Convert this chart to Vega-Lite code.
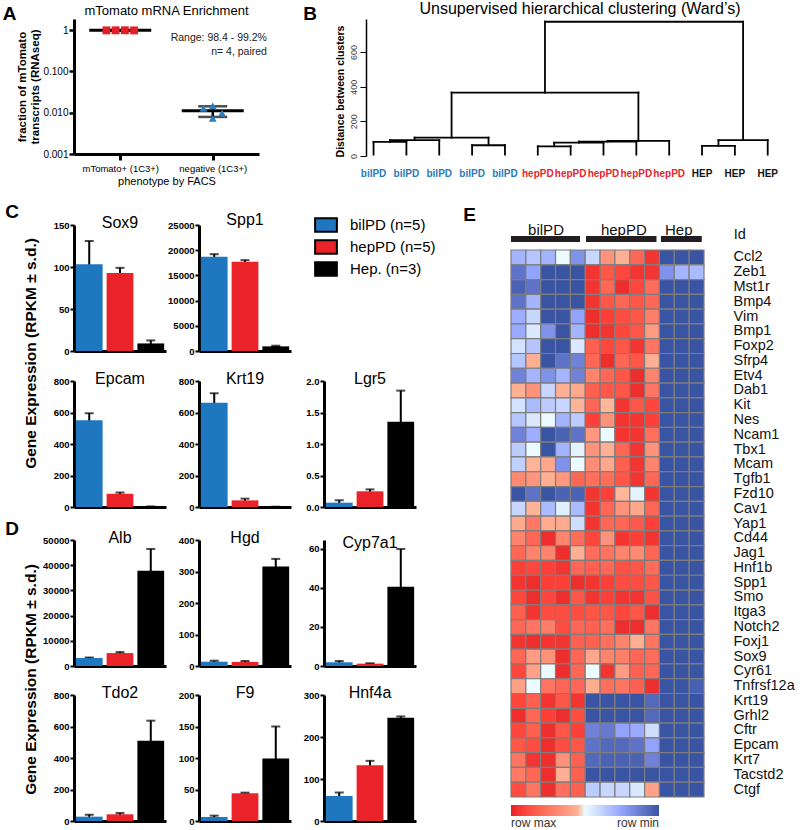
{
"$schema": "https://vega.github.io/schema/vega-lite/v6.json",
"padding": {"left": 2, "top": 1, "right": 2, "bottom": 0},
"background": "white",
"config": {
  "font": "Liberation Sans",
  "view": {"stroke": null},
  "axis": {"grid": false, "domainColor": "black", "tickColor": "black", "labelColor": "black", "titleColor": "black"},
  "axisY": {"domainWidth": 3, "tickWidth": 2, "tickSize": 4, "labelFontSize": 9.5, "labelFontWeight": "bold", "labelPadding": 1, "titleFontWeight": "bold"},
  "axisX": {"domainWidth": 3},
  "scale": {"bandPaddingInner": 0.13, "bandPaddingOuter": 0.06},
  "title": {"fontWeight": "normal", "color": "black"}
},
"datasets": {
  "aPoints": [
    {"grp": "mTomato+", "pos": 0.85, "frac": 0.986},
    {"grp": "mTomato+", "pos": 0.95, "frac": 0.99},
    {"grp": "mTomato+", "pos": 1.05, "frac": 0.992},
    {"grp": "mTomato+", "pos": 1.15, "frac": 0.984},
    {"grp": "negative", "pos": 1.9, "frac": 0.0127},
    {"grp": "negative", "pos": 2.0, "frac": 0.0147},
    {"grp": "negative", "pos": 2.0, "frac": 0.0073},
    {"grp": "negative", "pos": 2.1, "frac": 0.0098}
  ],
  "aSummary": [
    {"grp": "mTomato+", "pos": 1, "mean": 0.988, "sd": 0.0035},
    {"grp": "negative", "pos": 2, "mean": 0.0111, "sd": 0.0032}
  ],
  "aNotes": [
    {"pos": 2.586, "frac": 0.63, "note": "Range: 98.4 - 99.2%"},
    {"pos": 2.586, "frac": 0.30, "note": "n= 4, paired"}
  ],
  "dendro": [
    {"x1":1,"x2":1,"h1":8,"h2":81},{"x1":2,"x2":2,"h1":8,"h2":81},{"x1":1,"x2":2,"h1":81,"h2":81},
    {"x1":1.5,"x2":1.5,"h1":81,"h2":91},{"x1":3,"x2":3,"h1":8,"h2":91},{"x1":1.5,"x2":3,"h1":91,"h2":91},
    {"x1":4,"x2":4,"h1":8,"h2":62},{"x1":5,"x2":5,"h1":8,"h2":62},{"x1":4,"x2":5,"h1":62,"h2":62},
    {"x1":2.25,"x2":2.25,"h1":91,"h2":106},{"x1":4.5,"x2":4.5,"h1":62,"h2":106},{"x1":2.25,"x2":4.5,"h1":106,"h2":106},
    {"x1":6,"x2":6,"h1":8,"h2":56},{"x1":7,"x2":7,"h1":8,"h2":56},{"x1":6,"x2":7,"h1":56,"h2":56},
    {"x1":6.5,"x2":6.5,"h1":56,"h2":77},{"x1":8,"x2":8,"h1":8,"h2":77},{"x1":6.5,"x2":8,"h1":77,"h2":77},
    {"x1":7.25,"x2":7.25,"h1":77,"h2":83},{"x1":9,"x2":9,"h1":8,"h2":83},{"x1":7.25,"x2":9,"h1":83,"h2":83},
    {"x1":8.125,"x2":8.125,"h1":83,"h2":87},{"x1":10,"x2":10,"h1":8,"h2":87},{"x1":8.125,"x2":10,"h1":87,"h2":87},
    {"x1":3.375,"x2":3.375,"h1":106,"h2":366},{"x1":9.0625,"x2":9.0625,"h1":87,"h2":366},{"x1":3.375,"x2":9.0625,"h1":366,"h2":366},
    {"x1":11,"x2":11,"h1":8,"h2":58},{"x1":12,"x2":12,"h1":8,"h2":58},{"x1":11,"x2":12,"h1":58,"h2":58},
    {"x1":11.5,"x2":11.5,"h1":58,"h2":91},{"x1":13,"x2":13,"h1":8,"h2":91},{"x1":11.5,"x2":13,"h1":91,"h2":91},
    {"x1":6.21875,"x2":6.21875,"h1":366,"h2":774},{"x1":12.25,"x2":12.25,"h1":91,"h2":774},{"x1":6.21875,"x2":12.25,"h1":774,"h2":774}
  ],
  "leaves": [
    {"leaf":1,"name":"bilPD"},{"leaf":2,"name":"bilPD"},{"leaf":3,"name":"bilPD"},{"leaf":4,"name":"bilPD"},{"leaf":5,"name":"bilPD"},
    {"leaf":6,"name":"hepPD"},{"leaf":7,"name":"hepPD"},{"leaf":8,"name":"hepPD"},{"leaf":9,"name":"hepPD"},{"leaf":10,"name":"hepPD"},
    {"leaf":11,"name":"HEP"},{"leaf":12,"name":"HEP"},{"leaf":13,"name":"HEP"}
  ],
  "expr": [
    {"gene":"Sox9","group":"bilPD","mean":103.4,"sd":27.6},
    {"gene":"Sox9","group":"hepPD","mean":93,"sd":6},
    {"gene":"Sox9","group":"Hep.","mean":9,"sd":3.6},
    {"gene":"Spp1","group":"bilPD","mean":18684,"sd":526},
    {"gene":"Spp1","group":"hepPD","mean":17697,"sd":329},
    {"gene":"Spp1","group":"Hep.","mean":921,"sd":129},
    {"gene":"Epcam","group":"bilPD","mean":551,"sd":45},
    {"gene":"Epcam","group":"hepPD","mean":84,"sd":8},
    {"gene":"Epcam","group":"Hep.","mean":2,"sd":1},
    {"gene":"Krt19","group":"bilPD","mean":662,"sd":60},
    {"gene":"Krt19","group":"hepPD","mean":42,"sd":11},
    {"gene":"Krt19","group":"Hep.","mean":1,"sd":1},
    {"gene":"Lgr5","group":"bilPD","mean":0.069,"sd":0.037},
    {"gene":"Lgr5","group":"hepPD","mean":0.249,"sd":0.031},
    {"gene":"Lgr5","group":"Hep.","mean":1.354,"sd":0.493},
    {"gene":"Alb","group":"bilPD","mean":3158,"sd":263},
    {"gene":"Alb","group":"hepPD","mean":5132,"sd":394},
    {"gene":"Alb","group":"Hep.","mean":37763,"sd":8684},
    {"gene":"Hgd","group":"bilPD","mean":13.7,"sd":3.1},
    {"gene":"Hgd","group":"hepPD","mean":13,"sd":2.8},
    {"gene":"Hgd","group":"Hep.","mean":315.8,"sd":24.2},
    {"gene":"Cyp7a1","group":"bilPD","mean":1.9,"sd":0.7},
    {"gene":"Cyp7a1","group":"hepPD","mean":1.2,"sd":0.2},
    {"gene":"Cyp7a1","group":"Hep.","mean":40.6,"sd":19.4},
    {"gene":"Tdo2","group":"bilPD","mean":27.6,"sd":12.4},
    {"gene":"Tdo2","group":"hepPD","mean":42.4,"sd":8.6},
    {"gene":"Tdo2","group":"Hep.","mean":509,"sd":128},
    {"gene":"F9","group":"bilPD","mean":6.4,"sd":2.1},
    {"gene":"F9","group":"hepPD","mean":44,"sd":1},
    {"gene":"F9","group":"Hep.","mean":99.2,"sd":50.8},
    {"gene":"Hnf4a","group":"bilPD","mean":59.7,"sd":7.9},
    {"gene":"Hnf4a","group":"hepPD","mean":132.9,"sd":10.3},
    {"gene":"Hnf4a","group":"Hep.","mean":245.9,"sd":3.1}
  ],
  "egroups": [
    {"label":"bilPD","start":0,"end":4.65,"mid":2.36},
    {"label":"hepPD","start":5.05,"end":9.8,"mid":7.6},
    {"label":"Hep","start":10.1,"end":12.85,"mid":11.3}
  ],
  "eHeader": [
    {"pos": 15.0, "label": "Id"}
  ],
  "heat": [
{"g":"Ccl2","c":1,"v":7},{"g":"Ccl2","c":2,"v":6.5},{"g":"Ccl2","c":3,"v":7},{"g":"Ccl2","c":4,"v":5},{"g":"Ccl2","c":5,"v":8},{"g":"Ccl2","c":6,"v":6},{"g":"Ccl2","c":7,"v":3.5},{"g":"Ccl2","c":8,"v":4.5},{"g":"Ccl2","c":9,"v":2},{"g":"Ccl2","c":10,"v":0.5},{"g":"Ccl2","c":11,"v":10},{"g":"Ccl2","c":12,"v":10},{"g":"Ccl2","c":13,"v":10},
{"g":"Zeb1","c":1,"v":9},{"g":"Zeb1","c":2,"v":7.5},{"g":"Zeb1","c":3,"v":10},{"g":"Zeb1","c":4,"v":10},{"g":"Zeb1","c":5,"v":10},{"g":"Zeb1","c":6,"v":0.5},{"g":"Zeb1","c":7,"v":1.5},{"g":"Zeb1","c":8,"v":1},{"g":"Zeb1","c":9,"v":0.5},{"g":"Zeb1","c":10,"v":0.5},{"g":"Zeb1","c":11,"v":8},{"g":"Zeb1","c":12,"v":7},{"g":"Zeb1","c":13,"v":6.8},
{"g":"Mst1r","c":1,"v":9.5},{"g":"Mst1r","c":2,"v":9},{"g":"Mst1r","c":3,"v":10},{"g":"Mst1r","c":4,"v":10},{"g":"Mst1r","c":5,"v":10},{"g":"Mst1r","c":6,"v":0.5},{"g":"Mst1r","c":7,"v":2},{"g":"Mst1r","c":8,"v":0.3},{"g":"Mst1r","c":9,"v":1},{"g":"Mst1r","c":10,"v":2.2},{"g":"Mst1r","c":11,"v":10},{"g":"Mst1r","c":12,"v":10},{"g":"Mst1r","c":13,"v":10},
{"g":"Bmp4","c":1,"v":9},{"g":"Bmp4","c":2,"v":7},{"g":"Bmp4","c":3,"v":10},{"g":"Bmp4","c":4,"v":10},{"g":"Bmp4","c":5,"v":10},{"g":"Bmp4","c":6,"v":0.5},{"g":"Bmp4","c":7,"v":1.5},{"g":"Bmp4","c":8,"v":2},{"g":"Bmp4","c":9,"v":1.5},{"g":"Bmp4","c":10,"v":2},{"g":"Bmp4","c":11,"v":10},{"g":"Bmp4","c":12,"v":10},{"g":"Bmp4","c":13,"v":10},
{"g":"Vim","c":1,"v":7.2},{"g":"Vim","c":2,"v":6},{"g":"Vim","c":3,"v":10},{"g":"Vim","c":4,"v":10},{"g":"Vim","c":5,"v":7.5},{"g":"Vim","c":6,"v":0.3},{"g":"Vim","c":7,"v":0.8},{"g":"Vim","c":8,"v":1.2},{"g":"Vim","c":9,"v":1.5},{"g":"Vim","c":10,"v":2.8},{"g":"Vim","c":11,"v":10},{"g":"Vim","c":12,"v":10},{"g":"Vim","c":13,"v":10},
{"g":"Bmp1","c":1,"v":7.3},{"g":"Bmp1","c":2,"v":5.5},{"g":"Bmp1","c":3,"v":8},{"g":"Bmp1","c":4,"v":10},{"g":"Bmp1","c":5,"v":7},{"g":"Bmp1","c":6,"v":0.3},{"g":"Bmp1","c":7,"v":0.5},{"g":"Bmp1","c":8,"v":1},{"g":"Bmp1","c":9,"v":1.5},{"g":"Bmp1","c":10,"v":3.8},{"g":"Bmp1","c":11,"v":10},{"g":"Bmp1","c":12,"v":10},{"g":"Bmp1","c":13,"v":10},
{"g":"Foxp2","c":1,"v":5.7},{"g":"Foxp2","c":2,"v":6.5},{"g":"Foxp2","c":3,"v":10},{"g":"Foxp2","c":4,"v":10},{"g":"Foxp2","c":5,"v":5.5},{"g":"Foxp2","c":6,"v":1.8},{"g":"Foxp2","c":7,"v":1},{"g":"Foxp2","c":8,"v":1.5},{"g":"Foxp2","c":9,"v":0.5},{"g":"Foxp2","c":10,"v":2.5},{"g":"Foxp2","c":11,"v":10},{"g":"Foxp2","c":12,"v":10},{"g":"Foxp2","c":13,"v":10},
{"g":"Sfrp4","c":1,"v":6.5},{"g":"Sfrp4","c":2,"v":4.5},{"g":"Sfrp4","c":3,"v":10},{"g":"Sfrp4","c":4,"v":9},{"g":"Sfrp4","c":5,"v":8.5},{"g":"Sfrp4","c":6,"v":2},{"g":"Sfrp4","c":7,"v":0.3},{"g":"Sfrp4","c":8,"v":2},{"g":"Sfrp4","c":9,"v":1.5},{"g":"Sfrp4","c":10,"v":4.5},{"g":"Sfrp4","c":11,"v":10},{"g":"Sfrp4","c":12,"v":10},{"g":"Sfrp4","c":13,"v":10},
{"g":"Etv4","c":1,"v":8.5},{"g":"Etv4","c":2,"v":7},{"g":"Etv4","c":3,"v":8},{"g":"Etv4","c":4,"v":7},{"g":"Etv4","c":5,"v":8.5},{"g":"Etv4","c":6,"v":3},{"g":"Etv4","c":7,"v":2},{"g":"Etv4","c":8,"v":1.5},{"g":"Etv4","c":9,"v":0.3},{"g":"Etv4","c":10,"v":3},{"g":"Etv4","c":11,"v":10},{"g":"Etv4","c":12,"v":10},{"g":"Etv4","c":13,"v":10},
{"g":"Dab1","c":1,"v":4.5},{"g":"Dab1","c":2,"v":3.5},{"g":"Dab1","c":3,"v":6},{"g":"Dab1","c":4,"v":4.5},{"g":"Dab1","c":5,"v":4.3},{"g":"Dab1","c":6,"v":1.8},{"g":"Dab1","c":7,"v":1.5},{"g":"Dab1","c":8,"v":1.5},{"g":"Dab1","c":9,"v":0.3},{"g":"Dab1","c":10,"v":2.5},{"g":"Dab1","c":11,"v":10},{"g":"Dab1","c":12,"v":10},{"g":"Dab1","c":13,"v":10},
{"g":"Kit","c":1,"v":5.7},{"g":"Kit","c":2,"v":6.8},{"g":"Kit","c":3,"v":6.3},{"g":"Kit","c":4,"v":6},{"g":"Kit","c":5,"v":4.6},{"g":"Kit","c":6,"v":2},{"g":"Kit","c":7,"v":4.7},{"g":"Kit","c":8,"v":0.5},{"g":"Kit","c":9,"v":1.5},{"g":"Kit","c":10,"v":1},{"g":"Kit","c":11,"v":10},{"g":"Kit","c":12,"v":10},{"g":"Kit","c":13,"v":10},
{"g":"Nes","c":1,"v":6.5},{"g":"Nes","c":2,"v":5.5},{"g":"Nes","c":3,"v":5},{"g":"Nes","c":4,"v":7},{"g":"Nes","c":5,"v":6.3},{"g":"Nes","c":6,"v":0.8},{"g":"Nes","c":7,"v":3.5},{"g":"Nes","c":8,"v":0.5},{"g":"Nes","c":9,"v":0.5},{"g":"Nes","c":10,"v":0.8},{"g":"Nes","c":11,"v":10},{"g":"Nes","c":12,"v":10},{"g":"Nes","c":13,"v":10},
{"g":"Ncam1","c":1,"v":8.5},{"g":"Ncam1","c":2,"v":7.2},{"g":"Ncam1","c":3,"v":10},{"g":"Ncam1","c":4,"v":9.5},{"g":"Ncam1","c":5,"v":9},{"g":"Ncam1","c":6,"v":3.7},{"g":"Ncam1","c":7,"v":5},{"g":"Ncam1","c":8,"v":0.5},{"g":"Ncam1","c":9,"v":0.5},{"g":"Ncam1","c":10,"v":2.3},{"g":"Ncam1","c":11,"v":10},{"g":"Ncam1","c":12,"v":10},{"g":"Ncam1","c":13,"v":10},
{"g":"Tbx1","c":1,"v":6.3},{"g":"Tbx1","c":2,"v":5},{"g":"Tbx1","c":3,"v":10},{"g":"Tbx1","c":4,"v":7},{"g":"Tbx1","c":5,"v":5.2},{"g":"Tbx1","c":6,"v":3.5},{"g":"Tbx1","c":7,"v":4.5},{"g":"Tbx1","c":8,"v":2},{"g":"Tbx1","c":9,"v":0.5},{"g":"Tbx1","c":10,"v":3.5},{"g":"Tbx1","c":11,"v":10},{"g":"Tbx1","c":12,"v":10},{"g":"Tbx1","c":13,"v":10},
{"g":"Mcam","c":1,"v":6.2},{"g":"Mcam","c":2,"v":4.6},{"g":"Mcam","c":3,"v":4.2},{"g":"Mcam","c":4,"v":8},{"g":"Mcam","c":5,"v":5},{"g":"Mcam","c":6,"v":3.3},{"g":"Mcam","c":7,"v":4.2},{"g":"Mcam","c":8,"v":1.8},{"g":"Mcam","c":9,"v":0.5},{"g":"Mcam","c":10,"v":3},{"g":"Mcam","c":11,"v":10},{"g":"Mcam","c":12,"v":10},{"g":"Mcam","c":13,"v":10},
{"g":"Tgfb1","c":1,"v":3.2},{"g":"Tgfb1","c":2,"v":3.6},{"g":"Tgfb1","c":3,"v":4.5},{"g":"Tgfb1","c":4,"v":3.7},{"g":"Tgfb1","c":5,"v":2},{"g":"Tgfb1","c":6,"v":2.3},{"g":"Tgfb1","c":7,"v":2.2},{"g":"Tgfb1","c":8,"v":1.5},{"g":"Tgfb1","c":9,"v":0.5},{"g":"Tgfb1","c":10,"v":2},{"g":"Tgfb1","c":11,"v":10},{"g":"Tgfb1","c":12,"v":10},{"g":"Tgfb1","c":13,"v":10},
{"g":"Fzd10","c":1,"v":10},{"g":"Fzd10","c":2,"v":9},{"g":"Fzd10","c":3,"v":10},{"g":"Fzd10","c":4,"v":9.5},{"g":"Fzd10","c":5,"v":9.5},{"g":"Fzd10","c":6,"v":0.5},{"g":"Fzd10","c":7,"v":0.8},{"g":"Fzd10","c":8,"v":4.7},{"g":"Fzd10","c":9,"v":5.2},{"g":"Fzd10","c":10,"v":0.5},{"g":"Fzd10","c":11,"v":10},{"g":"Fzd10","c":12,"v":10},{"g":"Fzd10","c":13,"v":10},
{"g":"Cav1","c":1,"v":6},{"g":"Cav1","c":2,"v":4.6},{"g":"Cav1","c":3,"v":6.8},{"g":"Cav1","c":4,"v":5.3},{"g":"Cav1","c":5,"v":6.8},{"g":"Cav1","c":6,"v":0.5},{"g":"Cav1","c":7,"v":2},{"g":"Cav1","c":8,"v":3.5},{"g":"Cav1","c":9,"v":4.2},{"g":"Cav1","c":10,"v":2},{"g":"Cav1","c":11,"v":10},{"g":"Cav1","c":12,"v":10},{"g":"Cav1","c":13,"v":10},
{"g":"Yap1","c":1,"v":4.3},{"g":"Yap1","c":2,"v":2.6},{"g":"Yap1","c":3,"v":4.4},{"g":"Yap1","c":4,"v":4.3},{"g":"Yap1","c":5,"v":5.8},{"g":"Yap1","c":6,"v":0.5},{"g":"Yap1","c":7,"v":2},{"g":"Yap1","c":8,"v":2},{"g":"Yap1","c":9,"v":1.6},{"g":"Yap1","c":10,"v":0.8},{"g":"Yap1","c":11,"v":10},{"g":"Yap1","c":12,"v":10},{"g":"Yap1","c":13,"v":10},
{"g":"Cd44","c":1,"v":3},{"g":"Cd44","c":2,"v":2},{"g":"Cd44","c":3,"v":0.3},{"g":"Cd44","c":4,"v":3},{"g":"Cd44","c":5,"v":2.2},{"g":"Cd44","c":6,"v":1},{"g":"Cd44","c":7,"v":3.5},{"g":"Cd44","c":8,"v":0.5},{"g":"Cd44","c":9,"v":0.8},{"g":"Cd44","c":10,"v":0.5},{"g":"Cd44","c":11,"v":10},{"g":"Cd44","c":12,"v":10},{"g":"Cd44","c":13,"v":10},
{"g":"Jag1","c":1,"v":2},{"g":"Jag1","c":2,"v":3},{"g":"Jag1","c":3,"v":3},{"g":"Jag1","c":4,"v":0.3},{"g":"Jag1","c":5,"v":4.5},{"g":"Jag1","c":6,"v":2.2},{"g":"Jag1","c":7,"v":2.4},{"g":"Jag1","c":8,"v":3},{"g":"Jag1","c":9,"v":3.2},{"g":"Jag1","c":10,"v":2},{"g":"Jag1","c":11,"v":10},{"g":"Jag1","c":12,"v":10},{"g":"Jag1","c":13,"v":10},
{"g":"Hnf1b","c":1,"v":0.8},{"g":"Hnf1b","c":2,"v":1},{"g":"Hnf1b","c":3,"v":0.8},{"g":"Hnf1b","c":4,"v":0.5},{"g":"Hnf1b","c":5,"v":2},{"g":"Hnf1b","c":6,"v":1.8},{"g":"Hnf1b","c":7,"v":2},{"g":"Hnf1b","c":8,"v":1.3},{"g":"Hnf1b","c":9,"v":1.5},{"g":"Hnf1b","c":10,"v":2.2},{"g":"Hnf1b","c":11,"v":10},{"g":"Hnf1b","c":12,"v":10},{"g":"Hnf1b","c":13,"v":10},
{"g":"Spp1","c":1,"v":0.5},{"g":"Spp1","c":2,"v":0.3},{"g":"Spp1","c":3,"v":0.8},{"g":"Spp1","c":4,"v":0.8},{"g":"Spp1","c":5,"v":0.3},{"g":"Spp1","c":6,"v":0.5},{"g":"Spp1","c":7,"v":0.8},{"g":"Spp1","c":8,"v":1.2},{"g":"Spp1","c":9,"v":1.2},{"g":"Spp1","c":10,"v":1.5},{"g":"Spp1","c":11,"v":10},{"g":"Spp1","c":12,"v":10},{"g":"Spp1","c":13,"v":10},
{"g":"Smo","c":1,"v":1},{"g":"Smo","c":2,"v":0.3},{"g":"Smo","c":3,"v":1},{"g":"Smo","c":4,"v":0.3},{"g":"Smo","c":5,"v":1.5},{"g":"Smo","c":6,"v":0.5},{"g":"Smo","c":7,"v":0.8},{"g":"Smo","c":8,"v":0.5},{"g":"Smo","c":9,"v":0.5},{"g":"Smo","c":10,"v":1.3},{"g":"Smo","c":11,"v":10},{"g":"Smo","c":12,"v":10},{"g":"Smo","c":13,"v":10},
{"g":"Itga3","c":1,"v":1.8},{"g":"Itga3","c":2,"v":0.5},{"g":"Itga3","c":3,"v":1.2},{"g":"Itga3","c":4,"v":1.2},{"g":"Itga3","c":5,"v":1.2},{"g":"Itga3","c":6,"v":1.5},{"g":"Itga3","c":7,"v":1.5},{"g":"Itga3","c":8,"v":1},{"g":"Itga3","c":9,"v":1.5},{"g":"Itga3","c":10,"v":0.3},{"g":"Itga3","c":11,"v":10},{"g":"Itga3","c":12,"v":10},{"g":"Itga3","c":13,"v":10},
{"g":"Notch2","c":1,"v":2},{"g":"Notch2","c":2,"v":2.5},{"g":"Notch2","c":3,"v":2.8},{"g":"Notch2","c":4,"v":1.2},{"g":"Notch2","c":5,"v":2},{"g":"Notch2","c":6,"v":1.8},{"g":"Notch2","c":7,"v":2.3},{"g":"Notch2","c":8,"v":0.3},{"g":"Notch2","c":9,"v":0.3},{"g":"Notch2","c":10,"v":2.5},{"g":"Notch2","c":11,"v":10},{"g":"Notch2","c":12,"v":10},{"g":"Notch2","c":13,"v":10},
{"g":"Foxj1","c":1,"v":0.5},{"g":"Foxj1","c":2,"v":0.3},{"g":"Foxj1","c":3,"v":0.5},{"g":"Foxj1","c":4,"v":0.5},{"g":"Foxj1","c":5,"v":1.8},{"g":"Foxj1","c":6,"v":1.8},{"g":"Foxj1","c":7,"v":2.3},{"g":"Foxj1","c":8,"v":3},{"g":"Foxj1","c":9,"v":4.5},{"g":"Foxj1","c":10,"v":2.5},{"g":"Foxj1","c":11,"v":10},{"g":"Foxj1","c":12,"v":10},{"g":"Foxj1","c":13,"v":10},
{"g":"Sox9","c":1,"v":2},{"g":"Sox9","c":2,"v":3.8},{"g":"Sox9","c":3,"v":3.5},{"g":"Sox9","c":4,"v":0.3},{"g":"Sox9","c":5,"v":2},{"g":"Sox9","c":6,"v":4.2},{"g":"Sox9","c":7,"v":3},{"g":"Sox9","c":8,"v":2.8},{"g":"Sox9","c":9,"v":2},{"g":"Sox9","c":10,"v":2.2},{"g":"Sox9","c":11,"v":10},{"g":"Sox9","c":12,"v":10},{"g":"Sox9","c":13,"v":10},
{"g":"Cyr61","c":1,"v":1},{"g":"Cyr61","c":2,"v":4},{"g":"Cyr61","c":3,"v":5},{"g":"Cyr61","c":4,"v":0.3},{"g":"Cyr61","c":5,"v":2},{"g":"Cyr61","c":6,"v":5},{"g":"Cyr61","c":7,"v":0.5},{"g":"Cyr61","c":8,"v":3.8},{"g":"Cyr61","c":9,"v":1.8},{"g":"Cyr61","c":10,"v":2},{"g":"Cyr61","c":11,"v":10},{"g":"Cyr61","c":12,"v":10},{"g":"Cyr61","c":13,"v":10},
{"g":"Tnfrsf12a","c":1,"v":4},{"g":"Tnfrsf12a","c":2,"v":5},{"g":"Tnfrsf12a","c":3,"v":2.5},{"g":"Tnfrsf12a","c":4,"v":2},{"g":"Tnfrsf12a","c":5,"v":2},{"g":"Tnfrsf12a","c":6,"v":4.4},{"g":"Tnfrsf12a","c":7,"v":2.3},{"g":"Tnfrsf12a","c":8,"v":2.5},{"g":"Tnfrsf12a","c":9,"v":1.8},{"g":"Tnfrsf12a","c":10,"v":0.3},{"g":"Tnfrsf12a","c":11,"v":10},{"g":"Tnfrsf12a","c":12,"v":10},{"g":"Tnfrsf12a","c":13,"v":9.6},
{"g":"Krt19","c":1,"v":1},{"g":"Krt19","c":2,"v":1.8},{"g":"Krt19","c":3,"v":0.5},{"g":"Krt19","c":4,"v":1.5},{"g":"Krt19","c":5,"v":0.5},{"g":"Krt19","c":6,"v":10},{"g":"Krt19","c":7,"v":10},{"g":"Krt19","c":8,"v":10},{"g":"Krt19","c":9,"v":10},{"g":"Krt19","c":10,"v":9.3},{"g":"Krt19","c":11,"v":10},{"g":"Krt19","c":12,"v":10},{"g":"Krt19","c":13,"v":10},
{"g":"Grhl2","c":1,"v":0.3},{"g":"Grhl2","c":2,"v":2},{"g":"Grhl2","c":3,"v":0.8},{"g":"Grhl2","c":4,"v":0.3},{"g":"Grhl2","c":5,"v":1.2},{"g":"Grhl2","c":6,"v":10},{"g":"Grhl2","c":7,"v":10},{"g":"Grhl2","c":8,"v":10},{"g":"Grhl2","c":9,"v":10},{"g":"Grhl2","c":10,"v":9.3},{"g":"Grhl2","c":11,"v":10},{"g":"Grhl2","c":12,"v":10},{"g":"Grhl2","c":13,"v":10},
{"g":"Cftr","c":1,"v":1},{"g":"Cftr","c":2,"v":1.8},{"g":"Cftr","c":3,"v":0.3},{"g":"Cftr","c":4,"v":1.5},{"g":"Cftr","c":5,"v":0.8},{"g":"Cftr","c":6,"v":8.5},{"g":"Cftr","c":7,"v":8.8},{"g":"Cftr","c":8,"v":7.5},{"g":"Cftr","c":9,"v":7.3},{"g":"Cftr","c":10,"v":5.8},{"g":"Cftr","c":11,"v":10},{"g":"Cftr","c":12,"v":10},{"g":"Cftr","c":13,"v":10},
{"g":"Epcam","c":1,"v":1.5},{"g":"Epcam","c":2,"v":1.2},{"g":"Epcam","c":3,"v":0.3},{"g":"Epcam","c":4,"v":1.2},{"g":"Epcam","c":5,"v":1.5},{"g":"Epcam","c":6,"v":9},{"g":"Epcam","c":7,"v":9.3},{"g":"Epcam","c":8,"v":9.3},{"g":"Epcam","c":9,"v":9},{"g":"Epcam","c":10,"v":7.5},{"g":"Epcam","c":11,"v":10},{"g":"Epcam","c":12,"v":10},{"g":"Epcam","c":13,"v":10},
{"g":"Krt7","c":1,"v":2.5},{"g":"Krt7","c":2,"v":0.5},{"g":"Krt7","c":3,"v":0.3},{"g":"Krt7","c":4,"v":3.5},{"g":"Krt7","c":5,"v":1.8},{"g":"Krt7","c":6,"v":9.3},{"g":"Krt7","c":7,"v":9.5},{"g":"Krt7","c":8,"v":9.5},{"g":"Krt7","c":9,"v":9.5},{"g":"Krt7","c":10,"v":8.5},{"g":"Krt7","c":11,"v":10},{"g":"Krt7","c":12,"v":10},{"g":"Krt7","c":13,"v":10},
{"g":"Tacstd2","c":1,"v":2.7},{"g":"Tacstd2","c":2,"v":2},{"g":"Tacstd2","c":3,"v":0.3},{"g":"Tacstd2","c":4,"v":4.5},{"g":"Tacstd2","c":5,"v":1.8},{"g":"Tacstd2","c":6,"v":10},{"g":"Tacstd2","c":7,"v":10},{"g":"Tacstd2","c":8,"v":10},{"g":"Tacstd2","c":9,"v":10},{"g":"Tacstd2","c":10,"v":10},{"g":"Tacstd2","c":11,"v":10},{"g":"Tacstd2","c":12,"v":10},{"g":"Tacstd2","c":13,"v":10},
{"g":"Ctgf","c":1,"v":1.2},{"g":"Ctgf","c":2,"v":2.5},{"g":"Ctgf","c":3,"v":0.3},{"g":"Ctgf","c":4,"v":2.3},{"g":"Ctgf","c":5,"v":1.8},{"g":"Ctgf","c":6,"v":6.3},{"g":"Ctgf","c":7,"v":6},{"g":"Ctgf","c":8,"v":6},{"g":"Ctgf","c":9,"v":5.5},{"g":"Ctgf","c":10,"v":4},{"g":"Ctgf","c":11,"v":10},{"g":"Ctgf","c":12,"v":10},{"g":"Ctgf","c":13,"v":10}
  ]
},
"resolve": {"scale": {"color": "independent", "shape": "independent"}, "legend": {"color": "independent"}},
"spacing": 16,
"vconcat": [
 {
  "spacing": 36,
  "resolve": {"scale": {"color": "independent"}},
  "hconcat": [
   {
    "title": {"text": "A", "orient": "left", "angle": 0, "anchor": "end", "align": "left", "baseline": "top", "fontSize": 19, "fontWeight": "bold", "offset": 0},
    "hconcat": [
     {
      "width": 185, "height": 135,
      "title": {"text": "mTomato mRNA Enrichment", "fontSize": 13, "offset": 1},
      "layer": [
       {"data": {"name": "aSummary"},
        "mark": {"type": "errorbar", "orient": "vertical", "ticks": {"size": 29, "thickness": 2.5, "color": "black"}, "rule": {"strokeWidth": 2.5, "color": "black"}},
        "encoding": {
          "x": {"field": "pos", "type": "quantitative", "scale": {"domain": [0.5, 2.5], "nice": false, "zero": false},
                "axis": {"values": [1, 2], "labelExpr": "datum.value == 1 ? 'mTomato+ (1C3+)' : 'negative (1C3+)'", "title": "phenotype by FACS", "titleFontSize": 11, "titleFontWeight": "normal", "labelFontSize": 9.5, "tickSize": 6, "tickWidth": 3, "domainWidth": 3, "labelPadding": 3, "titlePadding": 3}},
          "y": {"field": "mean", "type": "quantitative", "scale": {"type": "log", "domain": [0.001, 1.86], "nice": false},
                "axis": {"values": [0.001, 0.01, 0.1, 1], "labelExpr": "datum.value >= 1 ? '1' : format(datum.value, '.3f')", "title": ["fraction of  mTomato", "transcripts (RNAseq)"], "titleFontSize": 11.5, "labelFontSize": 10, "labelFontWeight": "normal", "tickSize": 5, "tickWidth": 2.5, "domainWidth": 3, "titlePadding": 2, "labelPadding": 1}},
          "yError": {"field": "sd"}
        }},
       {"data": {"name": "aSummary"},
        "mark": {"type": "tick", "orient": "horizontal", "size": 62, "thickness": 3, "color": "black", "opacity": 1},
        "encoding": {"x": {"field": "pos", "type": "quantitative"}, "y": {"field": "mean", "type": "quantitative"}}},
       {"data": {"name": "aPoints"},
        "mark": {"type": "point", "filled": true, "opacity": 1, "size": 62},
        "encoding": {
          "x": {"field": "pos", "type": "quantitative"},
          "y": {"field": "frac", "type": "quantitative"},
          "shape": {"field": "grp", "type": "nominal", "scale": {"domain": ["mTomato+", "negative"], "range": ["square", "triangle-up"]}, "legend": null},
          "color": {"field": "grp", "type": "nominal", "scale": {"domain": ["mTomato+", "negative"], "range": ["#e41f26", "#2a7fc1"]}, "legend": null}
        }},
       {"data": {"name": "aNotes"},
        "mark": {"type": "text", "align": "right", "fontSize": 10.5, "color": "#222"},
        "encoding": {"x": {"field": "pos", "type": "quantitative"}, "y": {"field": "frac", "type": "quantitative"}, "text": {"field": "note"}}}
      ]
     }
    ]
   },
   {
    "title": {"text": "B", "orient": "left", "angle": 0, "anchor": "end", "align": "left", "baseline": "top", "fontSize": 19, "fontWeight": "bold", "offset": 18, "dy": 4},
    "hconcat": [
     {
      "width": 428, "height": 137,
      "title": {"text": "Unsupervised hierarchical clustering (Ward’s)", "fontSize": 16, "offset": 2},
      "layer": [
       {"data": {"name": "dendro"},
        "mark": {"type": "rule", "strokeWidth": 1.8, "color": "black", "strokeCap": "square"},
        "encoding": {
          "x": {"field": "x1", "type": "quantitative", "scale": {"domain": [0.77, 13.8], "nice": false, "zero": false}, "axis": null},
          "x2": {"field": "x2"},
          "y": {"field": "h1", "type": "quantitative", "scale": {"domain": [0, 790], "nice": false},
                "axis": {"values": [0, 200, 400, 600], "labelAngle": 270, "labelFontSize": 9, "labelFontWeight": "normal", "labelColor": "#444", "tickSize": 6, "tickWidth": 1, "domainWidth": 1.5, "title": "Distance between clusters", "titleFontSize": 10.5, "titleFontWeight": "bold", "titlePadding": 4, "labelPadding": 2, "titleY": 72}},
          "y2": {"field": "h2"}
        }},
       {"data": {"name": "leaves"},
        "mark": {"type": "text", "dy": 18, "fontSize": 10, "fontWeight": "bold"},
        "encoding": {
          "x": {"field": "leaf", "type": "quantitative"},
          "y": {"datum": 0, "type": "quantitative"},
          "text": {"field": "name"},
          "color": {"field": "name", "type": "nominal", "scale": {"domain": ["bilPD", "hepPD", "HEP"], "range": ["#2b7bba", "#e4262b", "#111111"]}, "legend": null}
        }}
      ]
     }
    ]
   }
  ]
 },
 {
  "spacing": 27,
  "resolve": {"scale": {"color": "independent"}, "legend": {"color": "independent"}},
  "hconcat": [
   {
    "spacing": 8,
    "resolve": {"scale": {"color": "independent"}, "legend": {"color": "independent"}},
    "vconcat": [
     {
      "title": {"text": "C", "orient": "left", "angle": 0, "anchor": "end", "align": "left", "baseline": "top", "fontSize": 19, "fontWeight": "bold", "offset": 4, "dy": -9},
      "columns": 3, "bounds": "flush", "spacing": {"row": 30, "column": 33},
      "resolve": {"scale": {"color": "independent"}, "legend": {"color": "independent"}},
      "concat": [
       {"width": 92, "height": 126, "title": {"text": "Sox9", "fontSize": 16, "offset": -11},
        "data": {"name": "expr"}, "transform": [{"filter": "datum.gene === 'Sox9'"}],
        "encoding": {
          "x": {"field": "group", "type": "nominal", "sort": ["bilPD", "hepPD", "Hep."], "title": null, "axis": {"labels": false, "ticks": false, "domainWidth": 3}},
          "y": {"field": "mean", "type": "quantitative", "scale": {"domain": [0, 150], "nice": false},
                "axis": {"values": [0, 50, 100, 150], "format": "d", "title": "Gene Expression (RPKM  ± s.d.)", "titleFontSize": 15.5, "titleFontWeight": "bold", "titleX": -36, "titleY": 128, "titleAngle": 270, "titleAlign": "center", "titleBaseline": "bottom"}}
        },
        "layer": [
         {"mark": {"type": "errorbar", "ticks": {"size": 9, "thickness": 2, "color": "black"}, "rule": {"strokeWidth": 2, "color": "black"}}, "encoding": {"yError": {"field": "sd"}}},
         {"mark": {"type": "bar"}, "encoding": {"color": {"field": "group", "type": "nominal", "scale": {"domain": ["bilPD", "hepPD", "Hep."], "range": ["#1f77c0", "#ea2229", "#000000"]}, "legend": null}}}
        ]},
       {"width": 92, "height": 126, "title": {"text": "Spp1", "fontSize": 16, "offset": -11},
        "data": {"name": "expr"}, "transform": [{"filter": "datum.gene === 'Spp1'"}],
        "encoding": {
          "x": {"field": "group", "type": "nominal", "sort": ["bilPD", "hepPD", "Hep."], "title": null, "axis": {"labels": false, "ticks": false, "domainWidth": 3}},
          "y": {"field": "mean", "type": "quantitative", "scale": {"domain": [0, 25000], "nice": false},
                "axis": {"values": [0, 5000, 10000, 15000, 20000, 25000], "format": "d", "title": null}}
        },
        "layer": [
         {"mark": {"type": "errorbar", "ticks": {"size": 9, "thickness": 2, "color": "black"}, "rule": {"strokeWidth": 2, "color": "black"}}, "encoding": {"yError": {"field": "sd"}}},
         {"mark": {"type": "bar"}, "encoding": {"color": {"field": "group", "type": "nominal", "scale": {"domain": ["bilPD", "hepPD", "Hep."], "range": ["#1f77c0", "#ea2229", "#000000"]},
            "legend": {"orient": "none", "legendX": 119, "legendY": -8, "title": null, "symbolType": "M-1.6,-1H1.6V1H-1.6Z", "symbolSize": 185, "symbolStrokeColor": "black", "symbolStrokeWidth": 2, "labelFontSize": 15, "labelOffset": 16, "rowPadding": 0, "padding": 0,
                       "labelExpr": "datum.label + (datum.label === 'Hep.' ? ' (n=3)' : ' (n=5)')"}}}}
        ]},
       {"width": 92, "height": 126, "data": {"values": []}, "mark": {"type": "point", "opacity": 0}},
       {"width": 92, "height": 126, "title": {"text": "Epcam", "fontSize": 16, "offset": -11},
        "data": {"name": "expr"}, "transform": [{"filter": "datum.gene === 'Epcam'"}],
        "encoding": {
          "x": {"field": "group", "type": "nominal", "sort": ["bilPD", "hepPD", "Hep."], "title": null, "axis": {"labels": false, "ticks": false, "domainWidth": 3}},
          "y": {"field": "mean", "type": "quantitative", "scale": {"domain": [0, 800], "nice": false},
                "axis": {"values": [0, 200, 400, 600, 800], "format": "d", "title": null}}
        },
        "layer": [
         {"mark": {"type": "errorbar", "ticks": {"size": 9, "thickness": 2, "color": "black"}, "rule": {"strokeWidth": 2, "color": "black"}}, "encoding": {"yError": {"field": "sd"}}},
         {"mark": {"type": "bar"}, "encoding": {"color": {"field": "group", "type": "nominal", "scale": {"domain": ["bilPD", "hepPD", "Hep."], "range": ["#1f77c0", "#ea2229", "#000000"]}, "legend": null}}}
        ]},
       {"width": 92, "height": 126, "title": {"text": "Krt19", "fontSize": 16, "offset": -11},
        "data": {"name": "expr"}, "transform": [{"filter": "datum.gene === 'Krt19'"}],
        "encoding": {
          "x": {"field": "group", "type": "nominal", "sort": ["bilPD", "hepPD", "Hep."], "title": null, "axis": {"labels": false, "ticks": false, "domainWidth": 3}},
          "y": {"field": "mean", "type": "quantitative", "scale": {"domain": [0, 800], "nice": false},
                "axis": {"values": [0, 200, 400, 600, 800], "format": "d", "title": null}}
        },
        "layer": [
         {"mark": {"type": "errorbar", "ticks": {"size": 9, "thickness": 2, "color": "black"}, "rule": {"strokeWidth": 2, "color": "black"}}, "encoding": {"yError": {"field": "sd"}}},
         {"mark": {"type": "bar"}, "encoding": {"color": {"field": "group", "type": "nominal", "scale": {"domain": ["bilPD", "hepPD", "Hep."], "range": ["#1f77c0", "#ea2229", "#000000"]}, "legend": null}}}
        ]},
       {"width": 92, "height": 126, "title": {"text": "Lgr5", "fontSize": 16, "offset": -11},
        "data": {"name": "expr"}, "transform": [{"filter": "datum.gene === 'Lgr5'"}],
        "encoding": {
          "x": {"field": "group", "type": "nominal", "sort": ["bilPD", "hepPD", "Hep."], "title": null, "axis": {"labels": false, "ticks": false, "domainWidth": 3}},
          "y": {"field": "mean", "type": "quantitative", "scale": {"domain": [0, 2], "nice": false},
                "axis": {"values": [0, 0.5, 1, 1.5, 2], "format": ".1f", "title": null}}
        },
        "layer": [
         {"mark": {"type": "errorbar", "ticks": {"size": 9, "thickness": 2, "color": "black"}, "rule": {"strokeWidth": 2, "color": "black"}}, "encoding": {"yError": {"field": "sd"}}},
         {"mark": {"type": "bar"}, "encoding": {"color": {"field": "group", "type": "nominal", "scale": {"domain": ["bilPD", "hepPD", "Hep."], "range": ["#1f77c0", "#ea2229", "#000000"]}, "legend": null}}}
        ]}
      ]
     },
     {
      "title": {"text": "D", "orient": "left", "angle": 0, "anchor": "end", "align": "left", "baseline": "top", "fontSize": 19, "fontWeight": "bold", "offset": 4, "dy": -10},
      "columns": 3, "bounds": "flush", "spacing": {"row": 29, "column": 33},
      "resolve": {"scale": {"color": "independent"}, "legend": {"color": "independent"}},
      "concat": [
       {"width": 92, "height": 126, "title": {"text": "Alb", "fontSize": 16, "offset": -11},
        "data": {"name": "expr"}, "transform": [{"filter": "datum.gene === 'Alb'"}],
        "encoding": {
          "x": {"field": "group", "type": "nominal", "sort": ["bilPD", "hepPD", "Hep."], "title": null, "axis": {"labels": false, "ticks": false, "domainWidth": 3}},
          "y": {"field": "mean", "type": "quantitative", "scale": {"domain": [0, 50000], "nice": false},
                "axis": {"values": [0, 10000, 20000, 30000, 40000, 50000], "format": "d", "title": "Gene Expression (RPKM  ± s.d.)", "titleFontSize": 15.5, "titleFontWeight": "bold", "titleX": -36, "titleY": 139, "titleAngle": 270, "titleAlign": "center", "titleBaseline": "bottom"}}
        },
        "layer": [
         {"mark": {"type": "errorbar", "ticks": {"size": 9, "thickness": 2, "color": "black"}, "rule": {"strokeWidth": 2, "color": "black"}}, "encoding": {"yError": {"field": "sd"}}},
         {"mark": {"type": "bar"}, "encoding": {"color": {"field": "group", "type": "nominal", "scale": {"domain": ["bilPD", "hepPD", "Hep."], "range": ["#1f77c0", "#ea2229", "#000000"]}, "legend": null}}}
        ]},
       {"width": 92, "height": 126, "title": {"text": "Hgd", "fontSize": 16, "offset": -11},
        "data": {"name": "expr"}, "transform": [{"filter": "datum.gene === 'Hgd'"}],
        "encoding": {
          "x": {"field": "group", "type": "nominal", "sort": ["bilPD", "hepPD", "Hep."], "title": null, "axis": {"labels": false, "ticks": false, "domainWidth": 3}},
          "y": {"field": "mean", "type": "quantitative", "scale": {"domain": [0, 400], "nice": false},
                "axis": {"values": [0, 100, 200, 300, 400], "format": "d", "title": null}}
        },
        "layer": [
         {"mark": {"type": "errorbar", "ticks": {"size": 9, "thickness": 2, "color": "black"}, "rule": {"strokeWidth": 2, "color": "black"}}, "encoding": {"yError": {"field": "sd"}}},
         {"mark": {"type": "bar"}, "encoding": {"color": {"field": "group", "type": "nominal", "scale": {"domain": ["bilPD", "hepPD", "Hep."], "range": ["#1f77c0", "#ea2229", "#000000"]}, "legend": null}}}
        ]},
       {"width": 92, "height": 126, "title": {"text": "Cyp7a1", "fontSize": 16, "offset": -11},
        "data": {"name": "expr"}, "transform": [{"filter": "datum.gene === 'Cyp7a1'"}],
        "encoding": {
          "x": {"field": "group", "type": "nominal", "sort": ["bilPD", "hepPD", "Hep."], "title": null, "axis": {"labels": false, "ticks": false, "domainWidth": 3}},
          "y": {"field": "mean", "type": "quantitative", "scale": {"domain": [0, 64.6], "nice": false},
                "axis": {"values": [0, 20, 40, 60], "format": "d", "title": null}}
        },
        "layer": [
         {"mark": {"type": "errorbar", "ticks": {"size": 9, "thickness": 2, "color": "black"}, "rule": {"strokeWidth": 2, "color": "black"}}, "encoding": {"yError": {"field": "sd"}}},
         {"mark": {"type": "bar"}, "encoding": {"color": {"field": "group", "type": "nominal", "scale": {"domain": ["bilPD", "hepPD", "Hep."], "range": ["#1f77c0", "#ea2229", "#000000"]}, "legend": null}}}
        ]},
       {"width": 92, "height": 126, "title": {"text": "Tdo2", "fontSize": 16, "offset": -11},
        "data": {"name": "expr"}, "transform": [{"filter": "datum.gene === 'Tdo2'"}],
        "encoding": {
          "x": {"field": "group", "type": "nominal", "sort": ["bilPD", "hepPD", "Hep."], "title": null, "axis": {"labels": false, "ticks": false, "domainWidth": 3}},
          "y": {"field": "mean", "type": "quantitative", "scale": {"domain": [0, 800], "nice": false},
                "axis": {"values": [0, 200, 400, 600, 800], "format": "d", "title": null}}
        },
        "layer": [
         {"mark": {"type": "errorbar", "ticks": {"size": 9, "thickness": 2, "color": "black"}, "rule": {"strokeWidth": 2, "color": "black"}}, "encoding": {"yError": {"field": "sd"}}},
         {"mark": {"type": "bar"}, "encoding": {"color": {"field": "group", "type": "nominal", "scale": {"domain": ["bilPD", "hepPD", "Hep."], "range": ["#1f77c0", "#ea2229", "#000000"]}, "legend": null}}}
        ]},
       {"width": 92, "height": 126, "title": {"text": "F9", "fontSize": 16, "offset": -11},
        "data": {"name": "expr"}, "transform": [{"filter": "datum.gene === 'F9'"}],
        "encoding": {
          "x": {"field": "group", "type": "nominal", "sort": ["bilPD", "hepPD", "Hep."], "title": null, "axis": {"labels": false, "ticks": false, "domainWidth": 3}},
          "y": {"field": "mean", "type": "quantitative", "scale": {"domain": [0, 200], "nice": false},
                "axis": {"values": [0, 50, 100, 150, 200], "format": "d", "title": null}}
        },
        "layer": [
         {"mark": {"type": "errorbar", "ticks": {"size": 9, "thickness": 2, "color": "black"}, "rule": {"strokeWidth": 2, "color": "black"}}, "encoding": {"yError": {"field": "sd"}}},
         {"mark": {"type": "bar"}, "encoding": {"color": {"field": "group", "type": "nominal", "scale": {"domain": ["bilPD", "hepPD", "Hep."], "range": ["#1f77c0", "#ea2229", "#000000"]}, "legend": null}}}
        ]},
       {"width": 92, "height": 126, "title": {"text": "Hnf4a", "fontSize": 16, "offset": -11},
        "data": {"name": "expr"}, "transform": [{"filter": "datum.gene === 'Hnf4a'"}],
        "encoding": {
          "x": {"field": "group", "type": "nominal", "sort": ["bilPD", "hepPD", "Hep."], "title": null, "axis": {"labels": false, "ticks": false, "domainWidth": 3}},
          "y": {"field": "mean", "type": "quantitative", "scale": {"domain": [0, 300], "nice": false},
                "axis": {"values": [0, 100, 200, 300], "format": "d", "title": null}}
        },
        "layer": [
         {"mark": {"type": "errorbar", "ticks": {"size": 9, "thickness": 2, "color": "black"}, "rule": {"strokeWidth": 2, "color": "black"}}, "encoding": {"yError": {"field": "sd"}}},
         {"mark": {"type": "bar"}, "encoding": {"color": {"field": "group", "type": "nominal", "scale": {"domain": ["bilPD", "hepPD", "Hep."], "range": ["#1f77c0", "#ea2229", "#000000"]}, "legend": null}}}
        ]}
      ]
     }
    ]
   },
   {
    "title": {"text": "E", "orient": "left", "angle": 0, "anchor": "end", "align": "left", "baseline": "top", "fontSize": 19, "fontWeight": "bold", "offset": 32, "dy": -17},
    "spacing": 0,
    "resolve": {"scale": {"color": "independent"}, "legend": {"color": "independent"}},
    "vconcat": [
     {
      "width": 193, "height": 23,
      "data": {"name": "egroups"},
      "layer": [
       {"mark": {"type": "rule", "strokeWidth": 6, "color": "#231f20"},
        "encoding": {
          "x": {"field": "start", "type": "quantitative", "scale": {"domain": [0, 13], "nice": false, "zero": false}, "axis": null},
          "x2": {"field": "end"},
          "y": {"datum": 0.391, "type": "quantitative", "scale": {"domain": [0, 1], "nice": false}, "axis": null}
        }},
       {"mark": {"type": "text", "fontSize": 15, "baseline": "alphabetic", "color": "#111"},
        "encoding": {
          "x": {"field": "mid", "type": "quantitative"},
          "y": {"datum": 0.565, "type": "quantitative"},
          "text": {"field": "label"}
        }},
       {"data": {"name": "eHeader"},
        "mark": {"type": "text", "fontSize": 14.5, "align": "left", "baseline": "middle", "color": "#111"},
        "encoding": {
          "x": {"field": "pos", "type": "quantitative"},
          "y": {"datum": 0.565, "type": "quantitative"},
          "text": {"field": "label"}
        }}
      ]
     },
     {
      "width": 193, "height": 547,
      "data": {"name": "heat"},
      "mark": {"type": "rect", "stroke": "#7d7d7d", "strokeWidth": 1.2},
      "encoding": {
        "x": {"field": "c", "type": "ordinal", "axis": null, "scale": {"paddingInner": 0, "paddingOuter": 0}},
        "y": {"field": "g", "type": "ordinal",
              "sort": ["Ccl2","Zeb1","Mst1r","Bmp4","Vim","Bmp1","Foxp2","Sfrp4","Etv4","Dab1","Kit","Nes","Ncam1","Tbx1","Mcam","Tgfb1","Fzd10","Cav1","Yap1","Cd44","Jag1","Hnf1b","Spp1","Smo","Itga3","Notch2","Foxj1","Sox9","Cyr61","Tnfrsf12a","Krt19","Grhl2","Cftr","Epcam","Krt7","Tacstd2","Ctgf"],
              "scale": {"paddingInner": 0, "paddingOuter": 0},
              "axis": {"orient": "right", "ticks": false, "domain": false, "labelFontSize": 14.5, "labelFontWeight": "normal", "labelPadding": 29, "labelColor": "#111", "title": null}},
        "color": {"field": "v", "type": "quantitative", "scale": {"domain": [0, 5, 10], "range": ["#e41f26", "#ffffff", "#3a54a4"]},
                  "legend": {"orient": "bottom", "direction": "horizontal", "gradientLength": 148, "gradientThickness": 11, "title": null, "values": [0, 10], "labelExpr": "datum.value == 0 ? 'row max' : 'row min'", "labelFontSize": 12, "labelColor": "#333", "offset": 8, "gradientStrokeWidth": 0}}
      }
     }
    ]
   }
  ]
 }
]
}
